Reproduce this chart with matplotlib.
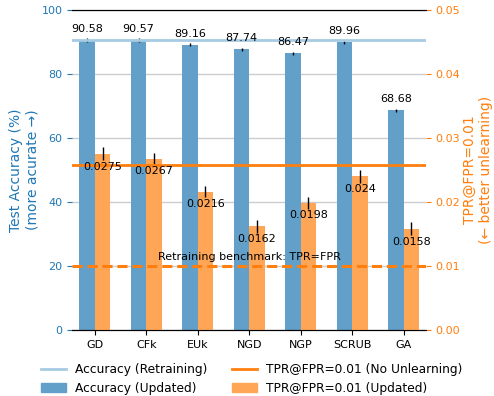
import matplotlib
matplotlib.use("Agg")
import matplotlib.pyplot as plt
import numpy as np
from matplotlib.lines import Line2D
from matplotlib.patches import Patch

methods = ["GD", "CFk", "EUk", "NGD", "NGP", "SCRUB", "GA"]
acc_updated = [90.58, 90.57, 89.16, 87.74, 86.47, 89.96, 68.68]
acc_err = [0.5, 0.5, 0.5, 0.5, 0.5, 0.5, 0.5]
tpr_updated = [0.0275, 0.0267, 0.0216, 0.0162, 0.0198, 0.024, 0.0158]
tpr_err = [0.001, 0.0009, 0.0009, 0.001, 0.0009, 0.001, 0.001]
acc_retrain = 90.6
tpr_no_unlearning = 0.0257
tpr_benchmark = 0.01

blue = "#1f77b4"
orange = "#ff7f0e"
bar_blue = "#62a0ca"
bar_orange = "#ffa556"
light_blue = "#a6cbe3"

x = np.arange(len(methods))
w = 0.3

fig = plt.figure(figsize=(4.94, 3.96), dpi=100)
ax1 = fig.add_axes([0.146, 0.167, 0.716, 0.808])
ax2 = ax1.twinx()

# accuracy bars (left axis)
ax1.set_axisbelow(True)
ax1.yaxis.grid(True, color="#cccccc", linewidth=1.0)
ax1.bar(x - w / 2, acc_updated, w, color=bar_blue, yerr=acc_err,
        error_kw=dict(ecolor="black", elinewidth=1.0, capsize=0))
ax1.axhline(acc_retrain, color=light_blue, linewidth=2)
for xi, v, e in zip(x, acc_updated, acc_err):
    ax1.annotate(f"{v:g}", (xi - w / 2, v + e), xytext=(0, 3),
                 textcoords="offset points", ha="center", va="bottom",
                 fontsize=8)

# TPR bars (right axis)
ax2.bar(x + w / 2, tpr_updated, w, color=bar_orange, yerr=tpr_err,
        error_kw=dict(ecolor="black", elinewidth=1.0, capsize=0))
ax2.axhline(tpr_no_unlearning, color=orange, linewidth=2)
ax2.axhline(tpr_benchmark, color=orange, linewidth=2.2, linestyle="--",
            dashes=(3.3, 1.6))
ax2.annotate("Retraining benchmark: TPR=FPR", (x[3], tpr_benchmark),
             xytext=(0, 3), textcoords="offset points", ha="center",
             va="bottom", fontsize=8)
for xi, v, e in zip(x, tpr_updated, tpr_err):
    ax2.annotate(f"{v:g}", (xi + w / 2, v - e), xytext=(0, -1),
                 textcoords="offset points", ha="center", va="top",
                 fontsize=8, zorder=5)

ax1.set_xlim(-0.44, 6.43)
ax1.set_ylim(0, 100)
ax2.set_ylim(0, 0.05)
ax1.set_yticks([0, 20, 40, 60, 80, 100])
ax2.set_yticks([0, 0.01, 0.02, 0.03, 0.04, 0.05])
ax2.set_yticklabels(["0.00", "0.01", "0.02", "0.03", "0.04", "0.05"])
ax1.set_xticks(x)
ax1.set_xticklabels(methods, fontsize=8)

ax1.tick_params(axis="y", colors=blue, labelsize=8)
ax2.tick_params(axis="y", colors=orange, labelsize=8)
ax1.set_ylabel("Test Accuracy (%)\n(more acurate \u2192)", color=blue,
               fontsize=10, labelpad=1.5)
ax2.set_ylabel("TPR@FPR=0.01\n(\u2190 better unlearning)", color=orange,
               fontsize=10, labelpad=1.5)

for ax in (ax1, ax2):
    ax.spines["left"].set_visible(False)
    ax.spines["right"].set_visible(False)

handles = [
    Line2D([], [], color=light_blue, linewidth=2),
    Patch(color=bar_blue),
    Line2D([], [], color=orange, linewidth=2),
    Patch(color=bar_orange),
]
labels = [
    "Accuracy (Retraining)",
    "Accuracy (Updated)",
    "TPR@FPR=0.01 (No Unlearning)",
    "TPR@FPR=0.01 (Updated)",
]
fig.legend(handles, labels, loc="lower center", bbox_to_anchor=(0.51, -0.025),
           ncol=2, frameon=False, fontsize=8.8, handlelength=2.0,
           columnspacing=2.0, labelspacing=0.5)

fig.savefig("out.png", dpi=100)
